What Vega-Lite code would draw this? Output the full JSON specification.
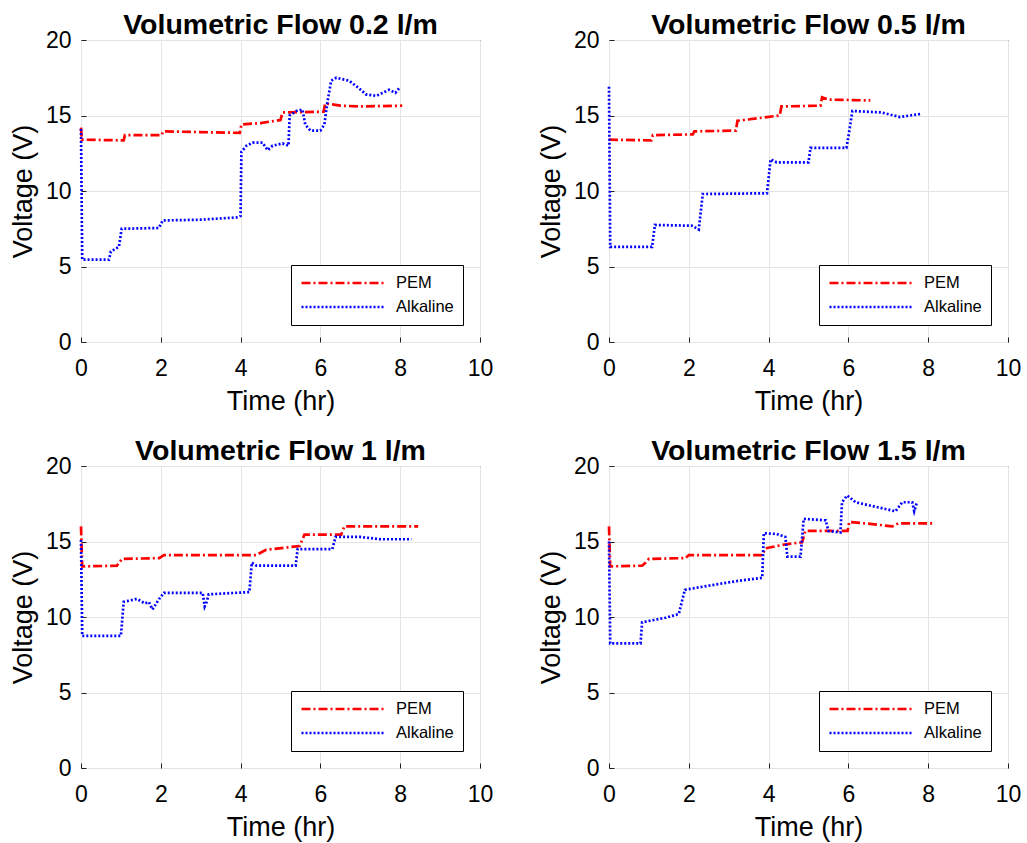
{
  "$schema": "https://vega.github.io/schema/vega-lite/v6.json",
  "background": "white",
  "padding": {"left": 8, "top": 10, "right": 5, "bottom": 2},
  "columns": 2,
  "spacing": {"row": 124, "column": 129},
  "bounds": "flush",
  "datasets": {
    "p1": [
      {"series": "PEM", "t": 0, "v": 14.2}, {"series": "PEM", "t": 0.02, "v": 13.4}, {"series": "PEM", "t": 1.07, "v": 13.35}, {"series": "PEM", "t": 1.1, "v": 13.7}, {"series": "PEM", "t": 2.02, "v": 13.7}, {"series": "PEM", "t": 2.06, "v": 13.95}, {"series": "PEM", "t": 3.0, "v": 13.9}, {"series": "PEM", "t": 3.98, "v": 13.85}, {"series": "PEM", "t": 4.02, "v": 14.4}, {"series": "PEM", "t": 4.5, "v": 14.5}, {"series": "PEM", "t": 5.0, "v": 14.7}, {"series": "PEM", "t": 5.05, "v": 15.2}, {"series": "PEM", "t": 6.08, "v": 15.25}, {"series": "PEM", "t": 6.12, "v": 15.8}, {"series": "PEM", "t": 6.5, "v": 15.65}, {"series": "PEM", "t": 7.0, "v": 15.6}, {"series": "PEM", "t": 8.05, "v": 15.65},
      {"series": "Alkaline", "t": 0, "v": 14.1}, {"series": "Alkaline", "t": 0.03, "v": 5.45}, {"series": "Alkaline", "t": 0.7, "v": 5.45}, {"series": "Alkaline", "t": 0.75, "v": 6.0}, {"series": "Alkaline", "t": 0.95, "v": 6.3}, {"series": "Alkaline", "t": 1.02, "v": 7.5}, {"series": "Alkaline", "t": 1.95, "v": 7.55}, {"series": "Alkaline", "t": 2.05, "v": 8.05}, {"series": "Alkaline", "t": 3.0, "v": 8.1}, {"series": "Alkaline", "t": 3.9, "v": 8.25}, {"series": "Alkaline", "t": 4.0, "v": 8.35}, {"series": "Alkaline", "t": 4.02, "v": 12.6}, {"series": "Alkaline", "t": 4.15, "v": 13.0}, {"series": "Alkaline", "t": 4.3, "v": 13.2}, {"series": "Alkaline", "t": 4.55, "v": 13.2}, {"series": "Alkaline", "t": 4.68, "v": 12.7}, {"series": "Alkaline", "t": 4.8, "v": 13.0}, {"series": "Alkaline", "t": 5.05, "v": 13.15}, {"series": "Alkaline", "t": 5.2, "v": 13.0}, {"series": "Alkaline", "t": 5.23, "v": 15.0}, {"series": "Alkaline", "t": 5.4, "v": 15.3}, {"series": "Alkaline", "t": 5.55, "v": 15.4}, {"series": "Alkaline", "t": 5.62, "v": 14.4}, {"series": "Alkaline", "t": 5.75, "v": 14.0}, {"series": "Alkaline", "t": 6.0, "v": 14.0}, {"series": "Alkaline", "t": 6.1, "v": 14.4}, {"series": "Alkaline", "t": 6.17, "v": 15.8}, {"series": "Alkaline", "t": 6.27, "v": 17.3}, {"series": "Alkaline", "t": 6.4, "v": 17.5}, {"series": "Alkaline", "t": 6.72, "v": 17.3}, {"series": "Alkaline", "t": 6.97, "v": 16.8}, {"series": "Alkaline", "t": 7.14, "v": 16.4}, {"series": "Alkaline", "t": 7.4, "v": 16.3}, {"series": "Alkaline", "t": 7.72, "v": 16.7}, {"series": "Alkaline", "t": 7.88, "v": 16.5}, {"series": "Alkaline", "t": 8.0, "v": 16.9}
    ],
    "p2": [
      {"series": "PEM", "t": 0, "v": 13.4}, {"series": "PEM", "t": 1.06, "v": 13.35}, {"series": "PEM", "t": 1.1, "v": 13.7}, {"series": "PEM", "t": 2.1, "v": 13.75}, {"series": "PEM", "t": 2.14, "v": 13.95}, {"series": "PEM", "t": 3.18, "v": 14.0}, {"series": "PEM", "t": 3.22, "v": 14.65}, {"series": "PEM", "t": 4.28, "v": 15.0}, {"series": "PEM", "t": 4.32, "v": 15.6}, {"series": "PEM", "t": 5.3, "v": 15.65}, {"series": "PEM", "t": 5.34, "v": 16.2}, {"series": "PEM", "t": 5.5, "v": 16.05}, {"series": "PEM", "t": 6.55, "v": 16.0},
      {"series": "Alkaline", "t": 0, "v": 16.9}, {"series": "Alkaline", "t": 0.03, "v": 6.3}, {"series": "Alkaline", "t": 1.08, "v": 6.3}, {"series": "Alkaline", "t": 1.15, "v": 7.75}, {"series": "Alkaline", "t": 2.08, "v": 7.7}, {"series": "Alkaline", "t": 2.25, "v": 7.45}, {"series": "Alkaline", "t": 2.35, "v": 9.8}, {"series": "Alkaline", "t": 3.96, "v": 9.85}, {"series": "Alkaline", "t": 4.05, "v": 12.1}, {"series": "Alkaline", "t": 4.2, "v": 11.9}, {"series": "Alkaline", "t": 5.0, "v": 11.9}, {"series": "Alkaline", "t": 5.05, "v": 12.85}, {"series": "Alkaline", "t": 5.95, "v": 12.85}, {"series": "Alkaline", "t": 6.0, "v": 13.6}, {"series": "Alkaline", "t": 6.1, "v": 15.3}, {"series": "Alkaline", "t": 6.83, "v": 15.2}, {"series": "Alkaline", "t": 7.29, "v": 14.9}, {"series": "Alkaline", "t": 7.8, "v": 15.1}
    ],
    "p3": [
      {"series": "PEM", "t": 0, "v": 16.0}, {"series": "PEM", "t": 0.03, "v": 13.35}, {"series": "PEM", "t": 0.9, "v": 13.4}, {"series": "PEM", "t": 1.03, "v": 13.85}, {"series": "PEM", "t": 1.96, "v": 13.9}, {"series": "PEM", "t": 2.08, "v": 14.1}, {"series": "PEM", "t": 4.39, "v": 14.1}, {"series": "PEM", "t": 4.64, "v": 14.45}, {"series": "PEM", "t": 5.48, "v": 14.7}, {"series": "PEM", "t": 5.6, "v": 15.45}, {"series": "PEM", "t": 6.52, "v": 15.45}, {"series": "PEM", "t": 6.6, "v": 16.0}, {"series": "PEM", "t": 8.45, "v": 16.0},
      {"series": "Alkaline", "t": 0, "v": 15.1}, {"series": "Alkaline", "t": 0.03, "v": 8.75}, {"series": "Alkaline", "t": 1.0, "v": 8.75}, {"series": "Alkaline", "t": 1.07, "v": 11.0}, {"series": "Alkaline", "t": 1.4, "v": 11.2}, {"series": "Alkaline", "t": 1.6, "v": 10.9}, {"series": "Alkaline", "t": 1.7, "v": 11.0}, {"series": "Alkaline", "t": 1.79, "v": 10.5}, {"series": "Alkaline", "t": 1.96, "v": 11.2}, {"series": "Alkaline", "t": 2.08, "v": 11.6}, {"series": "Alkaline", "t": 3.05, "v": 11.6}, {"series": "Alkaline", "t": 3.1, "v": 10.7}, {"series": "Alkaline", "t": 3.15, "v": 11.0}, {"series": "Alkaline", "t": 3.2, "v": 11.5}, {"series": "Alkaline", "t": 4.22, "v": 11.65}, {"series": "Alkaline", "t": 4.28, "v": 13.6}, {"series": "Alkaline", "t": 4.4, "v": 13.4}, {"series": "Alkaline", "t": 5.38, "v": 13.4}, {"series": "Alkaline", "t": 5.43, "v": 14.5}, {"series": "Alkaline", "t": 6.3, "v": 14.5}, {"series": "Alkaline", "t": 6.38, "v": 15.3}, {"series": "Alkaline", "t": 7.0, "v": 15.3}, {"series": "Alkaline", "t": 7.5, "v": 15.15}, {"series": "Alkaline", "t": 8.28, "v": 15.15}
    ],
    "p4": [
      {"series": "PEM", "t": 0, "v": 16.0}, {"series": "PEM", "t": 0.03, "v": 13.35}, {"series": "PEM", "t": 0.83, "v": 13.4}, {"series": "PEM", "t": 0.92, "v": 13.6}, {"series": "PEM", "t": 1.0, "v": 13.85}, {"series": "PEM", "t": 1.92, "v": 13.9}, {"series": "PEM", "t": 2.0, "v": 14.1}, {"series": "PEM", "t": 3.84, "v": 14.1}, {"series": "PEM", "t": 3.92, "v": 14.55}, {"series": "PEM", "t": 4.4, "v": 14.8}, {"series": "PEM", "t": 4.84, "v": 14.95}, {"series": "PEM", "t": 4.92, "v": 15.7}, {"series": "PEM", "t": 5.98, "v": 15.7}, {"series": "PEM", "t": 6.02, "v": 16.3}, {"series": "PEM", "t": 6.6, "v": 16.15}, {"series": "PEM", "t": 7.1, "v": 16.0}, {"series": "PEM", "t": 7.25, "v": 16.2}, {"series": "PEM", "t": 8.14, "v": 16.2},
      {"series": "Alkaline", "t": 0, "v": 15.0}, {"series": "Alkaline", "t": 0.03, "v": 8.25}, {"series": "Alkaline", "t": 0.79, "v": 8.25}, {"series": "Alkaline", "t": 0.83, "v": 9.65}, {"series": "Alkaline", "t": 1.42, "v": 9.95}, {"series": "Alkaline", "t": 1.75, "v": 10.2}, {"series": "Alkaline", "t": 1.9, "v": 11.8}, {"series": "Alkaline", "t": 2.67, "v": 12.15}, {"series": "Alkaline", "t": 3.26, "v": 12.4}, {"series": "Alkaline", "t": 3.84, "v": 12.6}, {"series": "Alkaline", "t": 3.88, "v": 15.55}, {"series": "Alkaline", "t": 4.2, "v": 15.5}, {"series": "Alkaline", "t": 4.42, "v": 15.3}, {"series": "Alkaline", "t": 4.47, "v": 14.0}, {"series": "Alkaline", "t": 4.8, "v": 14.0}, {"series": "Alkaline", "t": 4.88, "v": 16.5}, {"series": "Alkaline", "t": 5.43, "v": 16.4}, {"series": "Alkaline", "t": 5.5, "v": 15.7}, {"series": "Alkaline", "t": 5.8, "v": 15.6}, {"series": "Alkaline", "t": 5.84, "v": 17.6}, {"series": "Alkaline", "t": 5.97, "v": 18.05}, {"series": "Alkaline", "t": 6.18, "v": 17.6}, {"series": "Alkaline", "t": 6.68, "v": 17.3}, {"series": "Alkaline", "t": 7.18, "v": 17.0}, {"series": "Alkaline", "t": 7.35, "v": 17.6}, {"series": "Alkaline", "t": 7.6, "v": 17.6}, {"series": "Alkaline", "t": 7.65, "v": 17.0}, {"series": "Alkaline", "t": 7.72, "v": 17.6}
    ]
  },
  "resolve": {
    "scale": {"color": "independent", "strokeDash": "independent"},
    "legend": {"color": "independent", "strokeDash": "independent"}
  },
  "concat": [
    {
      "width": 399, "height": 302,
      "title": "Volumetric Flow 0.2 l/m",
      "data": {"name": "p1"},
      "mark": {"type": "line", "strokeWidth": 2.7, "strokeCap": "butt"},
      "encoding": {
        "x": {"field": "t", "type": "quantitative", "scale": {"domain": [0, 10]}, "axis": {"title": "Time (hr)", "values": [0, 2, 4, 6, 8, 10]}},
        "y": {"field": "v", "type": "quantitative", "scale": {"domain": [0, 20]}, "axis": {"title": "Voltage (V)", "values": [0, 5, 10, 15, 20]}},
        "color": {"field": "series", "type": "nominal", "scale": {"domain": ["PEM", "Alkaline"], "range": ["#ff0000", "#0000ff"]}, "legend": {"title": null}},
        "strokeDash": {"field": "series", "type": "nominal", "scale": {"domain": ["PEM", "Alkaline"], "range": [[9, 3, 2, 3], [2, 2]]}, "legend": {"title": null}}
      }
    },
    {
      "width": 399, "height": 302,
      "title": "Volumetric Flow 0.5 l/m",
      "data": {"name": "p2"},
      "mark": {"type": "line", "strokeWidth": 2.7, "strokeCap": "butt"},
      "encoding": {
        "x": {"field": "t", "type": "quantitative", "scale": {"domain": [0, 10]}, "axis": {"title": "Time (hr)", "values": [0, 2, 4, 6, 8, 10]}},
        "y": {"field": "v", "type": "quantitative", "scale": {"domain": [0, 20]}, "axis": {"title": "Voltage (V)", "values": [0, 5, 10, 15, 20]}},
        "color": {"field": "series", "type": "nominal", "scale": {"domain": ["PEM", "Alkaline"], "range": ["#ff0000", "#0000ff"]}, "legend": {"title": null}},
        "strokeDash": {"field": "series", "type": "nominal", "scale": {"domain": ["PEM", "Alkaline"], "range": [[9, 3, 2, 3], [2, 2]]}, "legend": {"title": null}}
      }
    },
    {
      "width": 399, "height": 302,
      "title": "Volumetric Flow 1 l/m",
      "data": {"name": "p3"},
      "mark": {"type": "line", "strokeWidth": 2.7, "strokeCap": "butt"},
      "encoding": {
        "x": {"field": "t", "type": "quantitative", "scale": {"domain": [0, 10]}, "axis": {"title": "Time (hr)", "values": [0, 2, 4, 6, 8, 10]}},
        "y": {"field": "v", "type": "quantitative", "scale": {"domain": [0, 20]}, "axis": {"title": "Voltage (V)", "values": [0, 5, 10, 15, 20]}},
        "color": {"field": "series", "type": "nominal", "scale": {"domain": ["PEM", "Alkaline"], "range": ["#ff0000", "#0000ff"]}, "legend": {"title": null}},
        "strokeDash": {"field": "series", "type": "nominal", "scale": {"domain": ["PEM", "Alkaline"], "range": [[9, 3, 2, 3], [2, 2]]}, "legend": {"title": null}}
      }
    },
    {
      "width": 399, "height": 302,
      "title": "Volumetric Flow 1.5 l/m",
      "data": {"name": "p4"},
      "mark": {"type": "line", "strokeWidth": 2.7, "strokeCap": "butt"},
      "encoding": {
        "x": {"field": "t", "type": "quantitative", "scale": {"domain": [0, 10]}, "axis": {"title": "Time (hr)", "values": [0, 2, 4, 6, 8, 10]}},
        "y": {"field": "v", "type": "quantitative", "scale": {"domain": [0, 20]}, "axis": {"title": "Voltage (V)", "values": [0, 5, 10, 15, 20]}},
        "color": {"field": "series", "type": "nominal", "scale": {"domain": ["PEM", "Alkaline"], "range": ["#ff0000", "#0000ff"]}, "legend": {"title": null}},
        "strokeDash": {"field": "series", "type": "nominal", "scale": {"domain": ["PEM", "Alkaline"], "range": [[9, 3, 2, 3], [2, 2]]}, "legend": {"title": null}}
      }
    }
  ],
  "config": {
    "font": "Liberation Sans",
    "view": {"stroke": "black", "strokeWidth": 1},
    "title": {"fontSize": 28.5, "fontWeight": "bold", "color": "black", "offset": -10, "anchor": "middle"},
    "axis": {
      "labelFontSize": 23, "titleFontSize": 27, "titleFontWeight": "normal",
      "labelColor": "black", "titleColor": "black", "labelFlush": false,
      "domain": false, "ticks": true, "tickSize": -5, "tickColor": "#222222",
      "gridColor": "#e4e4e4", "gridWidth": 1
    },
    "axisX": {"labelPadding": 20, "titlePadding": 8},
    "axisY": {"labelPadding": 15, "titlePadding": 8},
    "legend": {
      "orient": "bottom-right", "offset": 17,
      "strokeColor": "black", "fillColor": "white", "padding": 9, "cornerRadius": 0,
      "symbolType": "stroke", "symbolSize": 6889, "symbolStrokeWidth": 2.5, "clipHeight": 18,
      "labelFontSize": 16.5, "labelColor": "black", "labelOffset": 10, "rowPadding": 6
    }
  }
}
